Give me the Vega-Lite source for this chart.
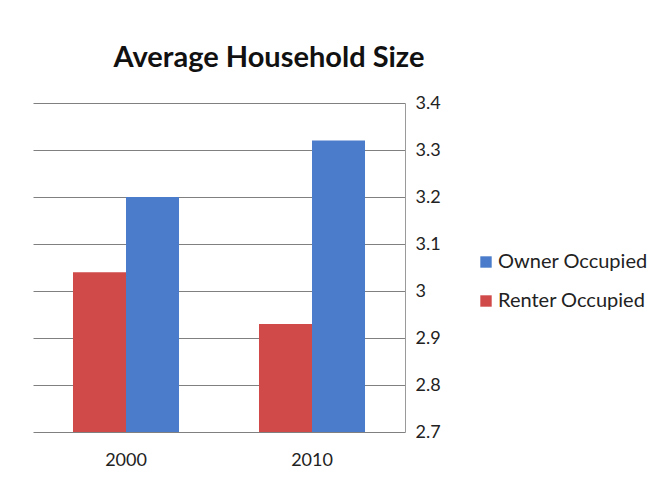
{
  "$schema": "https://vega.github.io/schema/vega-lite/v6.json",
  "width": 372,
  "height": 329,
  "autosize": "none",
  "padding": {"left": 33, "top": 103, "right": 250, "bottom": 51},
  "background": "white",
  "title": {
    "text": "Average Household Size",
    "font": "Lato",
    "fontSize": 29,
    "fontWeight": "bold",
    "color": "#111111",
    "anchor": "middle",
    "frame": "group",
    "dx": 50,
    "offset": 21
  },
  "data": {
    "values": [
      {"year": "2000", "type": "Renter Occupied", "value": 3.04},
      {"year": "2000", "type": "Owner Occupied", "value": 3.2},
      {"year": "2010", "type": "Renter Occupied", "value": 2.93},
      {"year": "2010", "type": "Owner Occupied", "value": 3.32}
    ]
  },
  "mark": {"type": "bar", "clip": true},
  "encoding": {
    "x": {
      "field": "year",
      "type": "nominal",
      "scale": {"paddingInner": 0.43, "paddingOuter": 0.215},
      "axis": {
        "title": null,
        "labelAngle": 0,
        "domain": false,
        "ticks": false,
        "labelPadding": 19,
        "labelFont": "Lato",
        "labelFontSize": 18,
        "labelColor": "#222222"
      }
    },
    "xOffset": {"field": "type", "sort": ["Renter Occupied", "Owner Occupied"]},
    "y": {
      "field": "value",
      "type": "quantitative",
      "scale": {"domain": [2.7, 3.4], "zero": false, "nice": false},
      "axis": {
        "orient": "right",
        "title": null,
        "values": [2.7, 2.8, 2.9, 3.0, 3.1, 3.2, 3.3, 3.4],
        "format": "~g",
        "grid": true,
        "gridColor": "#808080",
        "gridOpacity": 1,
        "domainColor": "#9a9a9a",
        "ticks": false,
        "labelPadding": 10,
        "labelFont": "Lato",
        "labelFontSize": 18,
        "labelColor": "#222222"
      }
    },
    "color": {
      "field": "type",
      "type": "nominal",
      "sort": ["Owner Occupied", "Renter Occupied"],
      "scale": {"domain": ["Owner Occupied", "Renter Occupied"], "range": ["#4a7ccb", "#cf4a48"]},
      "legend": {
        "title": null,
        "orient": "none",
        "legendX": 443,
        "legendY": 149,
        "symbolType": "square",
        "symbolSize": 130,
        "symbolStrokeWidth": 0,
        "labelFont": "Lato",
        "labelFontSize": 20,
        "labelColor": "#222222",
        "rowPadding": 19,
        "labelOffset": 2
      }
    }
  },
  "config": {"view": {"stroke": null}}
}
